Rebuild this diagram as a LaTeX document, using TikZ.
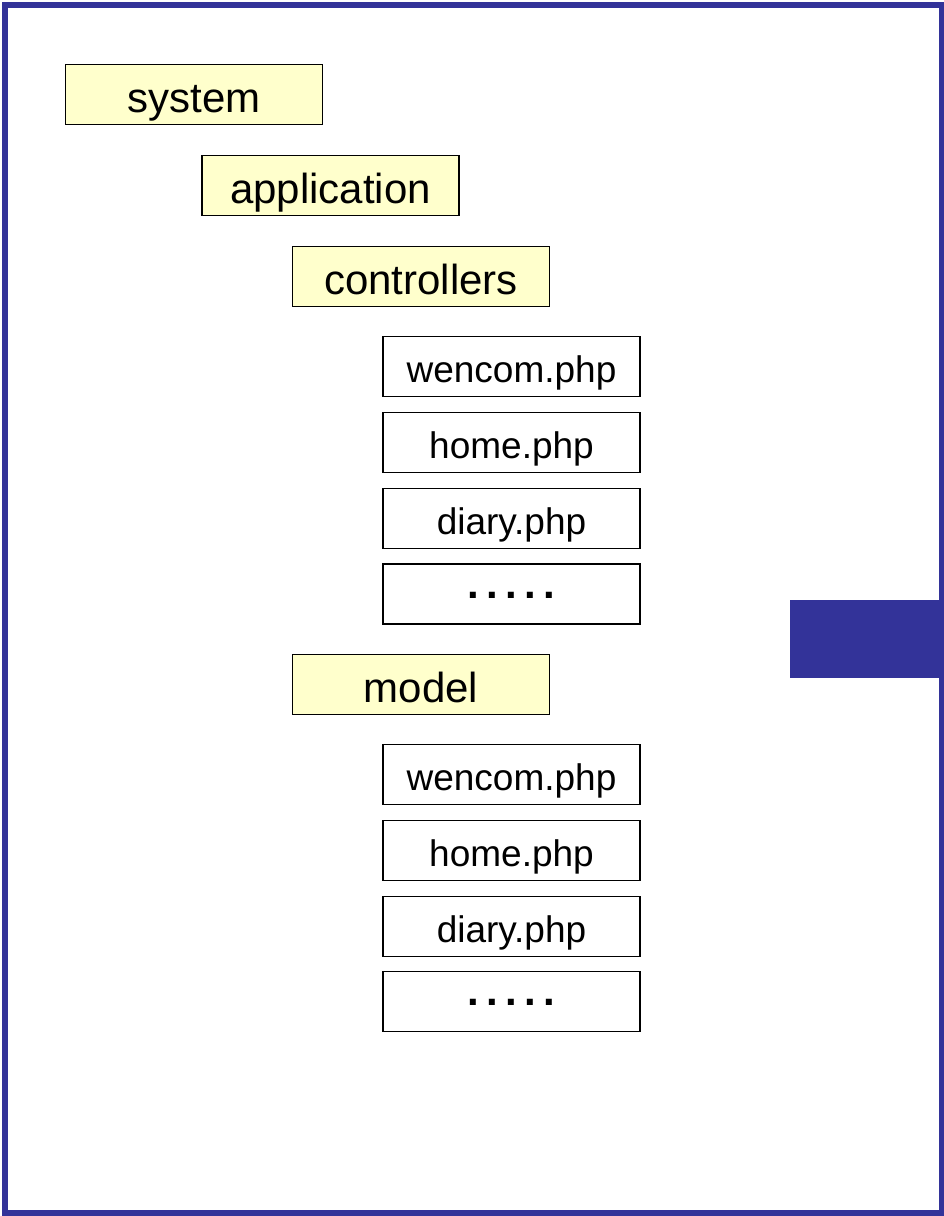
\documentclass[tikz,border=0pt]{standalone}
\usepackage{fontspec}
\setmainfont{Liberation Sans}
\definecolor{frameblue}{HTML}{333399}
\definecolor{folderfill}{HTML}{FFFFCC}
\newcommand{\moredots}{.\kern7.3pt.\kern7.3pt.\kern7.3pt.\kern7.3pt.}
\tikzset{
  folder/.style={draw=black, fill=folderfill, line width=1.3pt, inner sep=0pt,
    minimum width=257pt, minimum height=60pt,
    font=\fontsize{42}{50}\selectfont, text height=35pt, text depth=0pt},
  phpfile/.style={draw=black, fill=white, line width=1.3pt, inner sep=0pt,
    minimum width=257pt, minimum height=60pt,
    font=\fontsize{37}{44}\selectfont, text height=31pt, text depth=0pt},
  morefiles/.style={phpfile, font=\fontsize{42}{50}\selectfont\bfseries,
    text height=8pt, text depth=0pt}
}
\begin{document}
\begin{tikzpicture}[x=1pt,y=-1pt]
  \useasboundingbox (0,0) rectangle (944,1216);
  % page frame and side tab
  \draw[frameblue, line width=6pt] (4.6,4.5) rectangle (941.5,1213.4);
  \fill[frameblue] (790,600) rectangle (941,678);

  % directory tree
  \node[folder] (system) at (194,94.5) {system};
  \node[folder] (application) at (330.5,185.5) {application};
  \node[folder] (controllers) at (421,276.5) {controllers};

  \node[phpfile] (c1) at (511.5,366.5) {wencom.php};
  \node[phpfile] (c2) at (511.5,442.5) {home.php};
  \node[phpfile] (c3) at (511.5,518.5) {diary.php};
  \node[morefiles] (c4) at (511.5,594) {\moredots};

  \node[folder] (model) at (421,684.5) {model};

  \node[phpfile] (m1) at (511.5,774.5) {wencom.php};
  \node[phpfile] (m2) at (511.5,850.5) {home.php};
  \node[phpfile] (m3) at (511.5,926.5) {diary.php};
  \node[morefiles] (m4) at (511.5,1001.5) {\moredots};
\end{tikzpicture}
\end{document}
